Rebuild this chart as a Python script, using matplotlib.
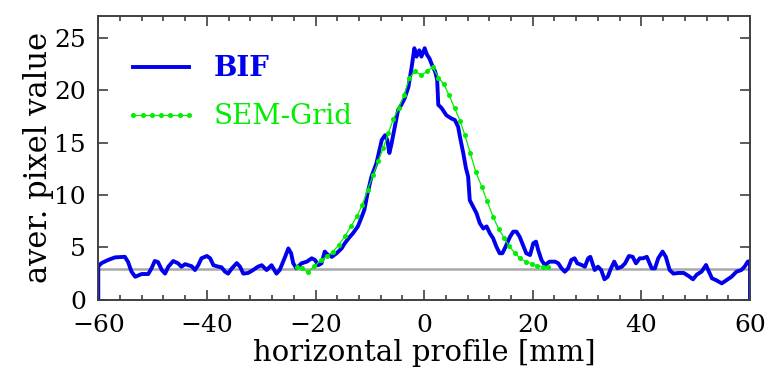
import matplotlib
matplotlib.use("Agg")
import matplotlib.pyplot as plt
from matplotlib.ticker import MultipleLocator


# ================= DATA =================

# BIF profile (x in mm, averaged pixel value)
bif_x = [
    -60.0, -60.0, -59.4, -58.2, -56.9, -55.1, -54.5, -53.9, -53.2, -52.0,
    -50.8, -50.2, -49.6, -49.0, -48.3, -47.7, -47.1, -46.2, -45.3, -44.7,
    -44.0, -42.8, -42.2, -41.6, -41.0, -40.0, -39.4, -38.8, -37.9, -37.3,
    -36.7, -36.1, -35.4, -34.5, -33.9, -33.3, -32.4, -31.5, -30.6, -29.9,
    -29.0, -28.1, -27.2, -26.6, -25.6, -25.0, -24.5, -24.1, -23.5, -22.6,
    -21.6, -20.7, -20.1, -19.5, -18.9, -18.3, -17.7, -17.0, -16.1, -15.2,
    -14.6, -13.7, -13.1, -12.2, -11.5, -11.0, -10.4, -9.7, -8.8, -7.8,
    -7.2, -6.8, -6.4, -6.0, -5.4, -4.8, -4.2, -3.6, -2.9, -2.3,
    -1.8, -1.4, -0.9, -0.5, 0.1, 0.5, 1.0, 1.6, 2.0, 2.4,
    2.6, 3.2, 4.1, 5.0, 5.65, 6.26, 6.57, 7.2, 7.7, 8.1,
    8.4, 9.0, 9.65, 10.25, 10.9, 11.5, 12.1, 12.7, 13.3, 13.9,
    14.4, 15.0, 15.8, 16.4, 17.0, 17.6, 18.2, 18.8, 19.5, 20.1,
    20.6, 21.0, 21.6, 22.2, 23.1, 24.1, 24.7, 25.3, 25.9, 26.5,
    27.1, 27.7, 28.2, 29.0, 29.6, 30.2, 30.6, 31.0, 31.4, 32.0,
    32.6, 33.2, 33.8, 34.4, 35.0, 35.6, 36.4, 37.0, 37.7, 38.4,
    39.0, 39.7, 40.3, 41.0, 41.9, 42.5, 43.1, 43.9, 44.5, 45.2,
    45.9, 46.8, 47.8, 48.7, 49.5, 50.2, 51.1, 51.9, 52.3, 53.0,
    53.7, 54.8, 55.7, 56.6, 57.5, 58.4, 59.0, 59.6, 60.0, 60.0,
]
bif_y = [
    0.0, 3.2, 3.5, 3.8, 4.05, 4.1, 3.6, 2.7, 2.2, 2.46,
    2.46, 3.0, 3.7, 3.6, 2.84, 2.5, 3.16, 3.7, 3.48, 3.16,
    3.4, 3.2, 2.84, 3.3, 3.96, 4.18, 3.96, 3.3, 3.16, 3.1,
    2.7, 2.5, 3.0, 3.5, 3.16, 2.5, 2.56, 2.84, 3.16, 3.3,
    2.84, 3.3, 2.5, 2.84, 4.1, 4.9, 4.45, 3.48, 3.0, 3.48,
    3.64, 3.96, 3.8, 3.3, 3.48, 4.6, 4.27, 4.1, 4.45, 4.9,
    5.4, 6.0, 6.35, 7.0, 7.9, 8.6, 10.2, 11.75, 13.0, 15.25,
    15.7, 15.25, 14.0, 14.9, 16.5, 18.1, 18.6, 19.2, 20.3, 22.2,
    24.0, 23.2, 23.8, 23.2, 24.0, 23.4, 23.0, 22.2, 21.8, 21.0,
    18.6, 18.3, 17.6, 17.3, 17.15, 16.5, 15.6, 14.0, 12.55, 11.75,
    9.5, 8.9, 8.25, 7.3, 6.8, 7.0, 6.35, 5.87, 5.07, 4.44,
    4.44, 5.07, 6.0, 6.5, 6.5, 6.0, 5.23, 4.44, 4.27, 5.4,
    5.55, 4.75, 3.8, 3.32, 3.64, 3.64, 3.48, 3.0, 2.68, 3.0,
    3.8, 3.96, 3.48, 3.32, 3.16, 3.96, 4.1, 3.48, 2.84, 3.16,
    2.84, 1.96, 2.2, 3.0, 3.64, 3.0, 3.16, 3.48, 4.18, 4.1,
    3.48, 3.96, 3.96, 4.1, 3.0, 3.0, 3.96, 4.6, 4.1, 2.84,
    2.5, 2.56, 2.56, 2.27, 1.96, 2.4, 2.7, 3.32, 2.84, 2.05,
    1.89, 1.57, 1.89, 2.2, 2.68, 2.84, 3.16, 3.64, 3.7, 0.0,
]

# SEM-Grid profile
sem_x = [
    -23.5, -22.5, -21.4, -20.2, -19.0, -17.9, -16.8, -15.7, -14.6, -13.5,
    -12.4, -11.4, -10.4, -9.4, -8.5, -7.5, -6.6, -5.7, -4.7, -3.7,
    -2.7, -1.6, -0.5, 0.5, 1.6, 2.6, 3.6, 4.6, 5.6, 6.6,
    7.5, 8.5, 9.5, 10.6, 11.6, 12.7, 13.7, 14.7, 15.7, 16.7,
    17.7, 18.7, 19.8, 20.8, 21.9, 22.8,
]
sem_y = [
    3.15, 3.0, 2.65, 3.2, 3.8, 4.15, 4.6, 5.25, 6.05, 7.0,
    7.95, 9.05, 10.5, 11.9, 13.2, 14.5, 15.9, 17.2, 18.3, 19.5,
    21.2, 21.8, 21.4, 21.8, 22.2, 21.2, 20.6, 19.5, 18.3, 17.1,
    15.7, 14.0, 12.2, 10.8, 9.4, 7.9, 6.8, 5.9, 5.1, 4.45,
    3.95, 3.65, 3.45, 3.25, 3.15, 3.15,
]

background = 2.9
x_range = [-60, 60]


# ================= DRAW =================

plt.rcParams["font.family"] = ["DejaVu Serif"]

fig = plt.figure(figsize=(7.69, 3.75), dpi=100)
ax = fig.add_axes([0.1278, 0.2005, 0.8475, 0.7576])

ax.plot(x_range, [background, background], color="#a8a8a8", lw=1.8, zorder=1)
ax.plot(bif_x, bif_y, color="#0000ee", lw=2.8, label="BIF", zorder=2)
ax.plot(sem_x, sem_y, color="#00ee00", lw=0.9, marker="o", ms=2.6,
        mec="#00ee00", label="SEM-Grid", zorder=3)

ax.set_xlim(-60, 60)
ax.set_ylim(0, 27.1)

ax.xaxis.set_major_locator(MultipleLocator(20))
ax.xaxis.set_minor_locator(MultipleLocator(4))
ax.yaxis.set_major_locator(MultipleLocator(5))

ax.tick_params(which="both", direction="in", top=True, right=True,
               color="#404040", width=1.2, labelsize=18)
ax.tick_params(which="major", length=7.5)
ax.tick_params(which="minor", length=3.5)
ax.tick_params(axis="y", pad=9)
ax.tick_params(axis="x", pad=10.5)

for s in ax.spines.values():
    s.set_color("#404040")
    s.set_linewidth(1.4)

ax.set_xlabel("horizontal profile [mm]", fontsize=21, labelpad=1)
ax.set_ylabel("aver. pixel value", fontsize=22, labelpad=0)

leg = ax.legend(loc="upper left", bbox_to_anchor=(0.041, 0.86),
                frameon=False, fontsize=20, handlelength=2.6,
                handletextpad=0.6, labelspacing=0.75, borderpad=0,
                borderaxespad=0, numpoints=7, labelcolor="linecolor")
leg.get_texts()[0].set_fontweight("bold")

plt.savefig("out.png", dpi=100)
plt.close()
